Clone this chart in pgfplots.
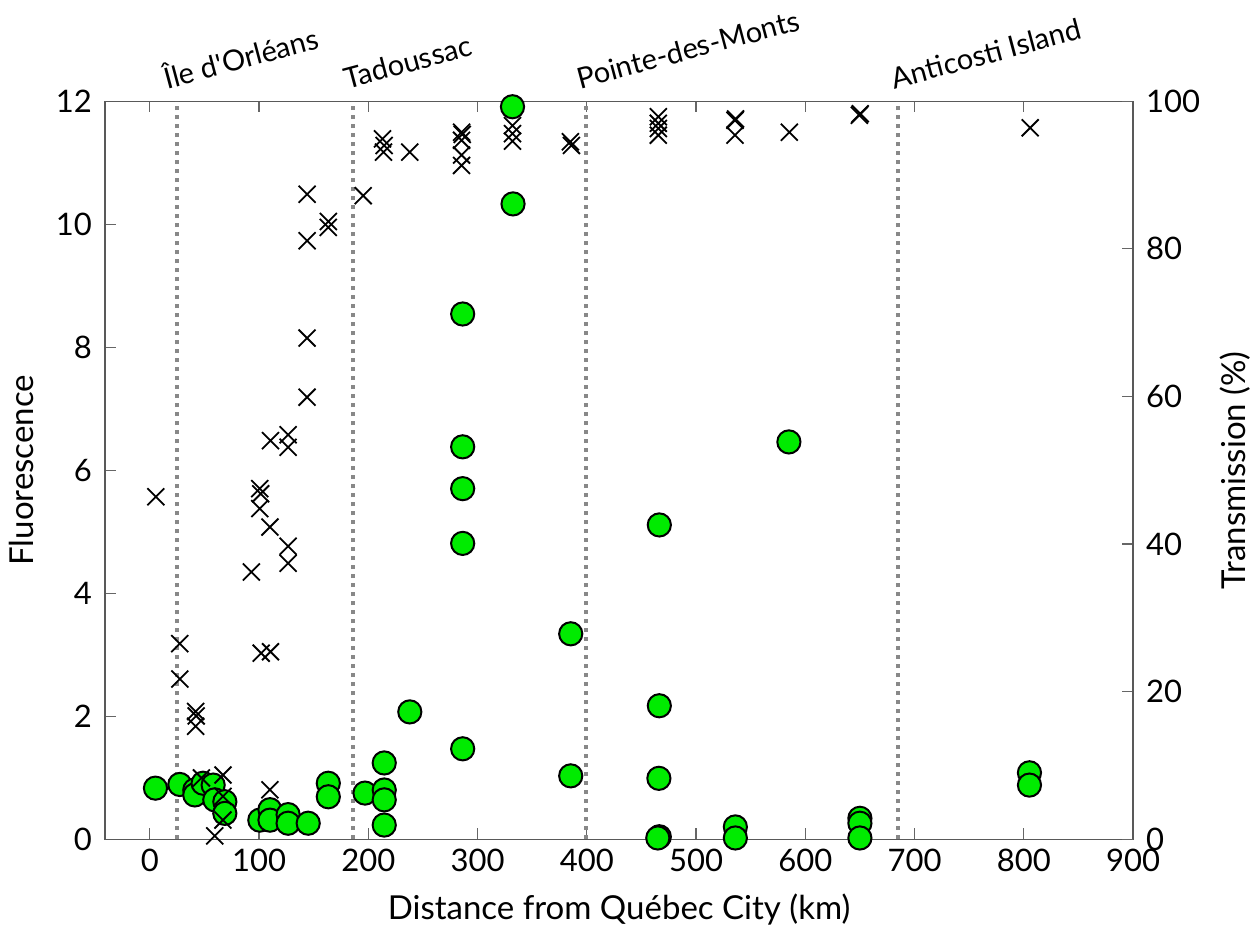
\documentclass[border=0pt]{standalone}
\usepackage{fontspec}
\setmainfont{Lato}[Ligatures=TeXOff]
\usepackage{pgfplots}
\pgfplotsset{compat=1.18}
\definecolor{cg}{RGB}{0,235,0}
\definecolor{vl}{RGB}{136,136,136}
\begin{document}
\begin{tikzpicture}
\pgfplotsset{
  common/.style={
    at={(0,0)}, anchor=south west,
    width=514pt, height=369pt, scale only axis,
    xmin=-41, xmax=900,
    tick align=inside,
    major tick length=5.5pt,
    axis line style={draw=black!65, line width=0.7pt},
    tick style={draw=black!60, line width=0.6pt},
    /pgf/number format/assume math mode=true,
    ticklabel style={font=\fontsize{15.5}{18}\selectfont},
    label style={font=\fontsize{16.5}{19}\selectfont},
    clip=false,
  }
}
\begin{axis}[common,
  ymin=0, ymax=12,
  xtick={0,100,...,900}, ytick={0,2,...,12},
  ytick pos=left,
  yticklabel style={xshift=-3pt},
  xticklabel style={yshift=-1.5pt},
  xlabel={Distance from Québec City (km)},
  ylabel={Fluorescence},
  xlabel shift=4pt,
  ylabel shift=4pt,
]
\draw[vl, line width=2pt, dash pattern=on 2pt off 2.5pt] (axis cs:25,0) -- (axis cs:25,12);
\draw[vl, line width=2pt, dash pattern=on 2pt off 2.5pt] (axis cs:186,0) -- (axis cs:186,12);
\draw[vl, line width=2pt, dash pattern=on 2pt off 2.5pt] (axis cs:399,0) -- (axis cs:399,12);
\draw[vl, line width=2pt, dash pattern=on 2pt off 2.5pt] (axis cs:685,0) -- (axis cs:685,12);
\node[rotate=15, anchor=base west, inner sep=0pt, font=\fontsize{14.5}{17}\selectfont] at ([xshift=-5pt,yshift=6pt]axis cs:25,12) {Île d'Orléans};
\node[rotate=15, anchor=base west, inner sep=0pt, font=\fontsize{14.5}{17}\selectfont] at ([xshift=-3pt,yshift=6pt]axis cs:186,12) {Tadoussac};
\node[rotate=15, anchor=base west, inner sep=0pt, font=\fontsize{14.5}{17}\selectfont] at ([xshift=-3pt,yshift=6pt]axis cs:399,12) {Pointe-des-Monts};
\node[rotate=15, anchor=base west, inner sep=0pt, font=\fontsize{14.5}{17}\selectfont] at ([xshift=-2pt,yshift=6pt]axis cs:685,12) {Anticosti Island};
\addplot[only marks, mark=*, mark size=5.8pt, mark options={fill=cg, draw=black, line width=1pt}] coordinates {
(5.2,0.83) (27.5,0.89) (41.2,0.80) (41.2,0.72) (48.8,0.91) (58,0.88) (59.5,0.64)
(68.7,0.61) (68.7,0.42) (100.7,0.31) (110,0.48) (110,0.31) (126.6,0.40) (126.6,0.26)
(145,0.26) (163.4,0.91) (163.4,0.69) (197,0.75) (214.6,1.24) (214.6,0.80) (214.6,0.64)
(214.6,0.23) (238,2.07) (286.4,8.54) (286.4,6.38) (286.4,5.70) (286.4,4.81) (286.4,1.47)
(332,11.91) (332.5,10.33) (385.3,3.34) (385.3,1.03) (466.4,5.11) (466.4,2.17) (466,0.99)
(466.4,0.04) (465,0.02) (536,0.20) (536,0.02) (585,6.46) (650,0.34) (650,0.26) (650,0.02)
(805.2,1.08) (805.2,0.88)
};
\end{axis}
\begin{axis}[common,
  ymin=0, ymax=100,
  axis x line=none, axis y line*=right,
  ytick={0,20,...,100},
  yticklabel style={xshift=3pt},
  ylabel={Transmission (\%)},
  ylabel shift=3pt,
]
\addplot[only marks, mark=x, mark size=6pt, mark options={draw=black, line width=0.9pt}] coordinates {
(5.5,46.4) (27.5,26.5) (27.5,21.7) (42,17.3) (42.5,16.7) (42,15.3) (47.3,8.3) (59.5,0.45)
(67,8.7) (67,5.8) (67,2.6) (93,36.2) (100.7,47.5) (101.5,46.8) (100.7,44.8) (102,25.2)
(110.5,25.4) (110,42.3) (110,6.7) (110.5,54.0) (126.6,54.8) (126.6,53.1) (126.6,39.7)
(126.6,37.4) (144,87.4) (144,81.1) (144,67.9) (144,59.9) (163.4,83.7) (163.4,82.9)
(195.3,87.2) (213,94.9) (214.5,94.0) (214,93.1) (238,93.1) (285.4,95.8) (286,95.5)
(285.4,94.7) (285.4,92.7) (285.4,91.3) (332,96.7) (332,95.6) (332,94.6) (385,94.5)
(386,94.0) (465.5,97.9) (465.5,97.0) (465.5,96.3) (465.5,95.4) (535.7,97.4) (536.2,97.6)
(535.7,95.4) (585.4,95.8) (649.5,98.1) (650.3,98.3) (805.9,96.4)
};
\end{axis}
\pgfresetboundingbox
\path (-52.5pt,-49.85pt) rectangle (574pt,419.6pt);
\end{tikzpicture}
\end{document}
